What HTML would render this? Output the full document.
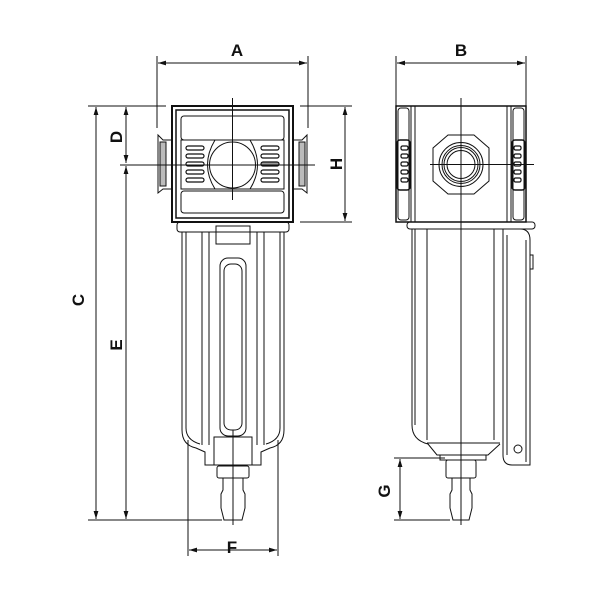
<!DOCTYPE html>
<html><head><style>
body{margin:0;background:#fff}
svg{display:block}
text{font-family:"Liberation Sans",sans-serif;font-weight:bold;font-size:17px;fill:#111}
</style></head><body>
<svg width="600" height="600" viewBox="0 0 600 600" xmlns="http://www.w3.org/2000/svg">
<defs>
<marker id="ar" viewBox="0 0 10 10" refX="10" refY="5" markerWidth="8" markerHeight="8" orient="auto-start-reverse"><path d="M0,2 L10,5 L0,8 z" fill="#111"/></marker>
</defs>
<g stroke="#111" fill="none" stroke-width="1">
<!-- dimensions front -->
<line x1="157" y1="56" x2="157" y2="128"/><line x1="308" y1="56" x2="308" y2="128"/>
<line x1="158" y1="63" x2="307" y2="63" marker-start="url(#ar)" marker-end="url(#ar)"/>
<line x1="88" y1="106" x2="166" y2="106"/><line x1="88" y1="520" x2="222" y2="520"/>
<line x1="96" y1="107" x2="96" y2="519" marker-start="url(#ar)" marker-end="url(#ar)"/>
<line x1="126" y1="107" x2="126" y2="163" marker-start="url(#ar)" marker-end="url(#ar)"/>
<line x1="126" y1="166" x2="126" y2="519" marker-start="url(#ar)" marker-end="url(#ar)"/>
<line x1="120" y1="165" x2="150" y2="165"/><line x1="152" y1="165" x2="155" y2="165"/>
<line x1="300" y1="106" x2="352" y2="106"/><line x1="300" y1="222" x2="352" y2="222"/>
<line x1="345" y1="107" x2="345" y2="221" marker-start="url(#ar)" marker-end="url(#ar)"/>
<line x1="188" y1="440" x2="188" y2="556"/><line x1="278" y1="440" x2="278" y2="556"/>
<line x1="189" y1="550" x2="277" y2="550" marker-start="url(#ar)" marker-end="url(#ar)"/>
<!-- front head -->
<rect x="172" y="106" width="121" height="116" stroke-width="2"/>
<rect x="176" y="110" width="113" height="108" stroke-width="1.5"/>
<rect x="181" y="116" width="103" height="24" rx="3"/>
<rect x="181" y="140" width="103" height="49"/>
<rect x="181" y="191" width="103" height="22" rx="3"/>
<path d="M215,140 Q200,165 215,189 M250,140 Q265,165 250,189"/>
<circle cx="232.5" cy="165" r="23"/>
<g stroke-width="1.2">
<rect x="186" y="146" width="18" height="4" rx="2"/><rect x="186" y="154" width="18" height="4" rx="2"/><rect x="186" y="162" width="18" height="4" rx="2"/><rect x="186" y="170" width="18" height="4" rx="2"/><rect x="186" y="178" width="18" height="4" rx="2"/>
<rect x="261" y="146" width="18" height="4" rx="2"/><rect x="261" y="154" width="18" height="4" rx="2"/><rect x="261" y="162" width="18" height="4" rx="2" fill="#999"/><rect x="261" y="170" width="18" height="4" rx="2"/><rect x="261" y="178" width="18" height="4" rx="2"/>
</g>
<path d="M172,140 L163,140 L158,135 L158,193 L163,189 L172,189"/>
<rect x="160" y="142" width="6" height="44" fill="#bbb"/>
<path d="M293,140 L302,140 L307,135 L307,193 L302,189 L293,189"/>
<rect x="299" y="142" width="6" height="44" fill="#bbb"/>
<line x1="232.5" y1="98" x2="232.5" y2="200"/>
<line x1="150" y1="165" x2="315" y2="165"/>
<!-- front bowl -->
<rect x="177" y="222" width="112" height="10" rx="3"/>
<path d="M182,232 L182,430 Q182,445 196,448 L205,452 L205,465 L261,465 L261,452 L270,448 Q284,445 284,430 L284,232"/>
<path d="M186,232 L186,428 Q186,440 200,444"/>
<path d="M280,232 L280,428 Q280,440 266,444"/>
<path d="M202,232 L202,445 M209,232 L209,445 M257,232 L257,445 M264,232 L264,445"/>
<rect x="216" y="226" width="34" height="18"/>
<rect x="220" y="258" width="26" height="178" rx="8"/>
<rect x="224" y="264" width="18" height="166" rx="7"/>
<rect x="214" y="437" width="38" height="28"/>
<rect x="217" y="466" width="32" height="12" rx="2"/>
<path d="M223,478 L223,490 L221,494 L221,508 L224,520 L242,520 L245,508 L245,494 L243,490 L243,478"/>
<line x1="233" y1="430" x2="233" y2="525"/>
<!-- side dims -->
<line x1="396" y1="56" x2="396" y2="106"/><line x1="526" y1="56" x2="526" y2="106"/>
<line x1="397" y1="63" x2="525" y2="63" marker-start="url(#ar)" marker-end="url(#ar)"/>
<line x1="394" y1="458" x2="445" y2="458"/><line x1="394" y1="520" x2="450" y2="520"/>
<line x1="400" y1="459" x2="400" y2="519" marker-start="url(#ar)" marker-end="url(#ar)"/>
<!-- side head -->
<rect x="396" y="106" width="130" height="116" stroke-width="1.5"/>
<line x1="411" y1="106" x2="411" y2="222"/><line x1="415" y1="106" x2="415" y2="222"/>
<line x1="507" y1="106" x2="507" y2="222"/><line x1="511" y1="106" x2="511" y2="222"/>
<rect x="398" y="108" width="11" height="112" rx="3"/><rect x="513" y="108" width="11" height="112" rx="3"/>
<rect x="397" y="140" width="13" height="50" rx="3" stroke-width="1.5"/>
<rect x="512" y="140" width="13" height="50" rx="3" stroke-width="1.5"/>
<g stroke-width="1.2">
<rect x="401" y="146" width="7" height="4" rx="1.5"/><rect x="401" y="154" width="7" height="4" rx="1.5"/><rect x="401" y="162" width="7" height="4" rx="1.5"/><rect x="401" y="170" width="7" height="4" rx="1.5"/><rect x="401" y="178" width="7" height="4" rx="1.5"/>
<rect x="514" y="146" width="7" height="4" rx="1.5"/><rect x="514" y="154" width="7" height="4" rx="1.5"/><rect x="514" y="162" width="7" height="4" rx="1.5"/><rect x="514" y="170" width="7" height="4" rx="1.5"/><rect x="514" y="178" width="7" height="4" rx="1.5"/>
</g>
<path d="M448,135 L474,135 L489,148 L489,181 L474,194 L448,194 L433,181 L433,148 Z"/>
<circle cx="461" cy="164.5" r="22"/><circle cx="461" cy="164.5" r="19"/><circle cx="461" cy="164.5" r="17"/><circle cx="461" cy="164.5" r="14"/>
<line x1="461" y1="98" x2="461" y2="222"/><line x1="430" y1="164.5" x2="534" y2="164.5"/>
<!-- side bowl -->
<rect x="407" y="222" width="128" height="7" rx="3"/>
<path d="M412,229 L412,425 Q412,440 428,444 L437,455 L488,455 L500,444"/>
<line x1="415" y1="229" x2="415" y2="425"/>
<line x1="427" y1="229" x2="427" y2="440"/><line x1="494" y1="229" x2="494" y2="440"/>
<line x1="427" y1="443" x2="500" y2="443"/>
<rect x="440" y="455" width="46" height="5"/>
<path d="M503,229 L503,455 Q503,465 512,465 L530,465 L530,240 Q530,229 520,229"/>
<line x1="507" y1="235" x2="507" y2="455"/><line x1="526" y1="240" x2="526" y2="462"/>
<circle cx="518" cy="449" r="4"/>
<rect x="530" y="255" width="3" height="14"/>
<rect x="446" y="460" width="30" height="18" rx="2"/>
<path d="M452,478 L452,490 L450,494 L450,508 L453,520 L469,520 L472,508 L472,494 L470,490 L470,478"/>
<line x1="461" y1="222" x2="461" y2="525"/>
</g>
<text x="237" y="56" text-anchor="middle">A</text>
<text x="461" y="56" text-anchor="middle">B</text>
<text x="232" y="553" text-anchor="middle">F</text>
<text transform="translate(84,300) rotate(-90)" text-anchor="middle">C</text>
<text transform="translate(122,345) rotate(-90)" text-anchor="middle">E</text>
<text transform="translate(122,137) rotate(-90)" text-anchor="middle">D</text>
<text transform="translate(342,164) rotate(-90)" text-anchor="middle">H</text>
<text transform="translate(390,491) rotate(-90)" text-anchor="middle">G</text>
</svg>
</body></html>
